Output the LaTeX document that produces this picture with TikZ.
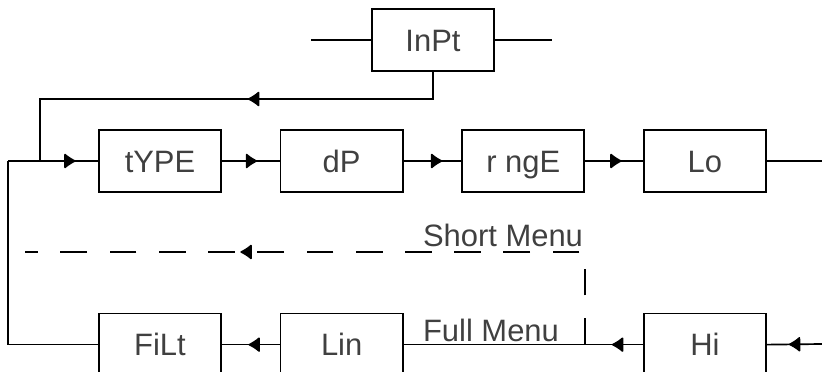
\documentclass[tikz,border=0pt]{standalone}
\usepackage{fontspec}
\setmainfont{Liberation Sans}
\usetikzlibrary{arrows.meta,decorations.markings}

\begin{document}
\begin{tikzpicture}[x=0.025cm,y=-0.025cm,node distance=4.54cm,line width=1.2pt,
    menu/.style = {shape=rectangle,draw,minimum width=3.05cm,minimum height=1.55cm,align=center,
        text height=19.8pt,text depth=4pt,font=\fontsize{22}{26}\selectfont,text=black!75},
    lbl/.style = {font=\fontsize{22}{26}\selectfont,text=black!75,inner sep=0pt,anchor=base},
    arr/.style = {postaction={decorate},decoration={markings,
        mark=at position #1 with {\arrow{Latex[round,length=9pt,width=12pt]}}}}]
    \useasboundingbox (0,0) rectangle (822,372);

    \node (inpt) [menu] at (433,40) {InPt};
    \node (type) [menu] at (160,161) {tYPE};
    \node (dp) [menu,right of=type] {dP};
    \node (rnge) [menu,right of=dp] {r ngE};
    \node (lo) [menu,right of=rnge] {Lo};
    \node (filt) [menu,below of=type,yshift=-0.05cm] {FiLt};
    \node (lin) [menu,right of=filt] {Lin};
    \node (hi) [menu,right of=lin,xshift=4.54cm] {Hi};

    \coordinate (entry) at (8,161);
    \coordinate (loopin) at (40,161);
    \coordinate (split) at (rnge.east |- lin);
    \coordinate (dashend) at (25,252);

    % input and the loop back into the list
    \draw (311,40) -- (inpt.west);
    \draw (inpt.east) -- (552,40);
    \draw[arr=0.44] (inpt.south) |- (40,99) -- (loopin);

    % upper row
    \draw[arr=0.75] (entry) -- (type.west);
    \draw[arr=0.61] (type) -- (dp);
    \draw[arr=0.67] (dp) -- (rnge);
    \draw[arr=0.63] (rnge) -- (lo);
    \draw (lo.east) -- (822,161);

    % lower row, running back to the left
    \draw[arr=0.6] (822,344) -- (hi.east);
    \draw[arr=0.13] (hi) -- (lin);
    \draw[arr=0.54] (lin) -- (filt);
    \draw (filt.west) -| (entry);

    % short menu branch
    \draw[dash pattern=on 19pt off 16pt,arr=0.67] (split) -- (split |- dashend) -- (dashend);
    \node (short) [lbl] at (503,247) {Short Menu};
    \node (full) [lbl] at (491,342) {Full Menu};
\end{tikzpicture}
\end{document}
